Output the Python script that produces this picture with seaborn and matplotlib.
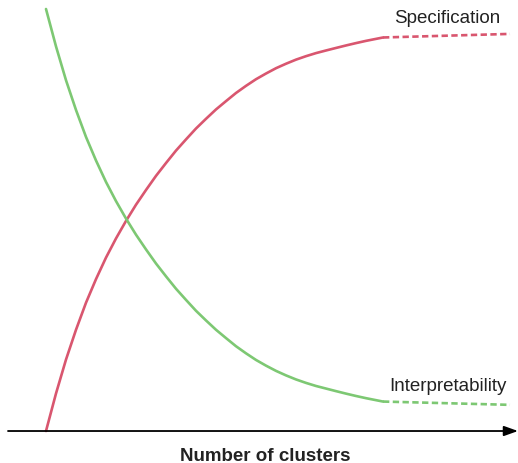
import matplotlib
matplotlib.use("Agg")
import matplotlib.pyplot as plt
import seaborn as sns
import pandas as pd

# ---- data (arbitrary units) ----
clusters = [0, 10, 20, 30, 40, 50, 60, 70, 80, 90, 100, 110, 120, 130, 140, 150, 160,
            170, 180, 190, 200, 210, 220, 230, 240, 250, 260, 270, 280, 290, 300, 310,
            320, 337]
specification = [0, 8.89, 16.93, 23.99, 30.40, 35.99, 41.09, 45.63, 49.78, 53.62, 57.11,
                  60.46, 63.50, 66.45, 69.10, 71.68, 73.98, 76.20, 78.17, 80.10, 81.79,
                  83.36, 84.71, 85.97, 87.03, 88.00, 88.82, 89.55, 90.17, 90.77, 91.36,
                  91.92, 92.45, 93.25]
interpretability = [100.0, 91.14, 83.12, 76.07, 69.68, 64.10, 59.01, 54.48, 50.34, 46.52,
                    43.03, 39.69, 36.65, 33.71, 31.07, 28.49, 26.20, 23.99, 22.02, 20.09,
                    18.41, 16.84, 15.49, 14.25, 13.18, 12.22, 11.40, 10.67, 10.06, 9.45,
                    8.86, 8.30, 7.78, 6.98]
ext_clusters = [337, 464]
spec_ext = [93.25, 94.1]
interp_ext = [6.98, 6.2]
series_labels = ["Specification", "Interpretability"]
x_label = "Number of clusters"

sns.set_theme(style="white")
plt.rcParams["font.family"] = ["Liberation Sans", "DejaVu Sans"]

RED = "#d9566f"
GREEN = "#7dc873"

fig = plt.figure(figsize=(5.18, 4.64), dpi=100)
ax = fig.add_axes([0, 0, 1, 1])
ax.set_xlim(-46, 472)
ax.set_ylim(-7.58, 102.37)
ax.axis("off")

df = pd.DataFrame({"clusters": clusters, "spec": specification, "interp": interpretability})
sns.lineplot(data=df, x="clusters", y="spec", ax=ax, color=RED, lw=1.9,
             solid_joinstyle="round")
sns.lineplot(data=df, x="clusters", y="interp", ax=ax, color=GREEN, lw=1.9,
             solid_joinstyle="round")
sns.lineplot(x=ext_clusters, y=spec_ext, ax=ax, color=RED, lw=1.9,
             linestyle=(0, (2.4, 1.3)))
sns.lineplot(x=ext_clusters, y=interp_ext, ax=ax, color=GREEN, lw=1.9,
             linestyle=(0, (2.4, 1.3)))

# x-axis arrow
ax.annotate("", xy=(472, 0), xytext=(-38, 0),
            arrowprops=dict(arrowstyle="-|>,head_length=0.7,head_width=0.25",
                            color="black", lw=1.3, shrinkA=0, shrinkB=0))

ax.text(401.5, 97.9, series_labels[0], ha="center", va="center", fontsize=13.5, color="#222222")
ax.text(402, 10.8, series_labels[1], ha="center", va="center", fontsize=13.5, color="#222222")
ax.text(219.5, -5.9, x_label, ha="center", va="center", fontsize=13.5,
        fontweight="bold", color="#222222")

fig.savefig("out.png", dpi=100)
